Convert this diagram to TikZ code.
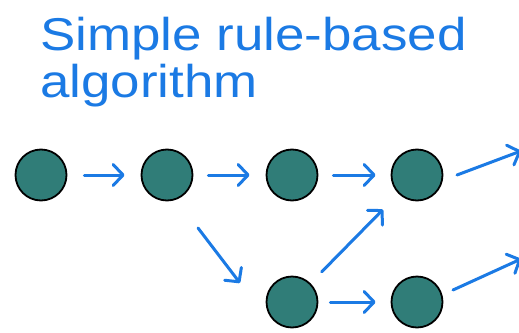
\documentclass[tikz,border=0pt]{standalone}
\usepackage{fontspec}
\setmainfont{Liberation Sans}
\usetikzlibrary{arrows.meta}
\definecolor{pen}{RGB}{27,122,228}
\definecolor{teal1}{RGB}{48,125,120}
\tikzset{
  dot/.style={circle,draw=black,line width=1.8pt,fill=teal1,minimum size=51pt,inner sep=0pt},
  arr/.style={draw=pen,line width=3pt,line cap=round,line join=round,
    -{Straight Barb[length=10pt,width=21pt,line cap=round,line join=round]}},
  hand/.style={text=pen,inner sep=0pt,anchor=base west,font=\fontsize{46}{50}\selectfont}
}
\begin{document}
\begin{tikzpicture}[x=1pt,y=-1pt]
\useasboundingbox (0,0) rectangle (519,332);
\node[hand] (t1) at (40,50) {\scalebox{1.15}[1]{Simple rule-based}};
\node[hand] (t2) at (40,97) {\scalebox{1.15}[1]{algorithm}};
\node[dot] (c1) at (41,175) {};
\node[dot] (c2) at (167,175) {};
\node[dot] (c3) at (292,175) {};
\node[dot] (c4) at (417,175) {};
\node[dot] (b1) at (292,302) {};
\node[dot] (b2) at (417,302) {};
\coordinate (o1) at (521,151);
\coordinate (o2) at (521,259);
\draw[arr,shorten <=17pt,shorten >=16pt] (c1) -- (c2);
\draw[arr,shorten <=15pt,shorten >=16pt] (c2) -- (c3);
\draw[arr,shorten <=15pt,shorten >=15pt] (c3) -- (c4);
\draw[arr] ([shift={(31,53)}]c2.center) -- ([shift={(-52,-19)}]b1.center);
\draw[arr,shorten <=16pt,shorten >=22pt] (b1) -- (c4);
\draw[arr,shorten <=12pt,shorten >=15pt] (b1) -- (b2);
\draw[arr] ([shift={(40,0)}]c4.center) -- (o1);
\draw[arr] ([shift={(36,-12)}]b2.center) -- (o2);
\end{tikzpicture}
\end{document}
